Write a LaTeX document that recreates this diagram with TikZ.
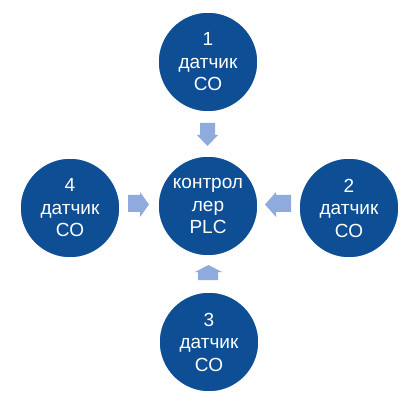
\documentclass[tikz,border=0pt]{standalone}
\usepackage{fontspec}
\setmainfont{Liberation Sans}
\usetikzlibrary{positioning}
\definecolor{plcBlue}{HTML}{0D4E95}
\definecolor{plcArrow}{HTML}{8FAADC}
\tikzset{
    sensor/.style={circle, draw=white, line width=1.5pt, fill=plcBlue, text=white, align=center, minimum size=100pt, inner sep=0pt, font=\fontsize{19}{22.5}\selectfont},
    blockarrow/.style={fill=plcArrow, draw=none}
}
\begin{document}
\begin{tikzpicture}[x=1pt, y=-1pt]
\useasboundingbox (0,0) rectangle (415,406);
\node[sensor] (plc) at (208,206) {контрол\\лер\\PLC};
\node[sensor] (s1) at (208,62) {1\\датчик\\CO};
\node[sensor] (s2) at (349,208) {2\\датчик\\CO};
\node[sensor] (s3) at (209,342) {3\\датчик\\CO};
\node[sensor] (s4) at (70,208) {4\\датчик\\CO};
% block arrows towards the controller
\fill[blockarrow] (200,123) -- (215,123) -- (215,135) -- (218,135) -- (207.5,146) -- (197,135) -- (200,135) -- cycle;
\fill[blockarrow] (198,280) -- (218,280) -- (218,272) -- (222,272) -- (208.5,265) -- (195,272) -- (198,272) -- cycle;
\fill[blockarrow] (128,195) -- (140,195) -- (140,192) -- (149,204.5) -- (140,217) -- (140,212) -- (128,212) -- cycle;
\fill[blockarrow] (291,195) -- (276,195) -- (276,192) -- (265,204.5) -- (276,217) -- (276,212) -- (291,212) -- cycle;
\end{tikzpicture}
\end{document}
